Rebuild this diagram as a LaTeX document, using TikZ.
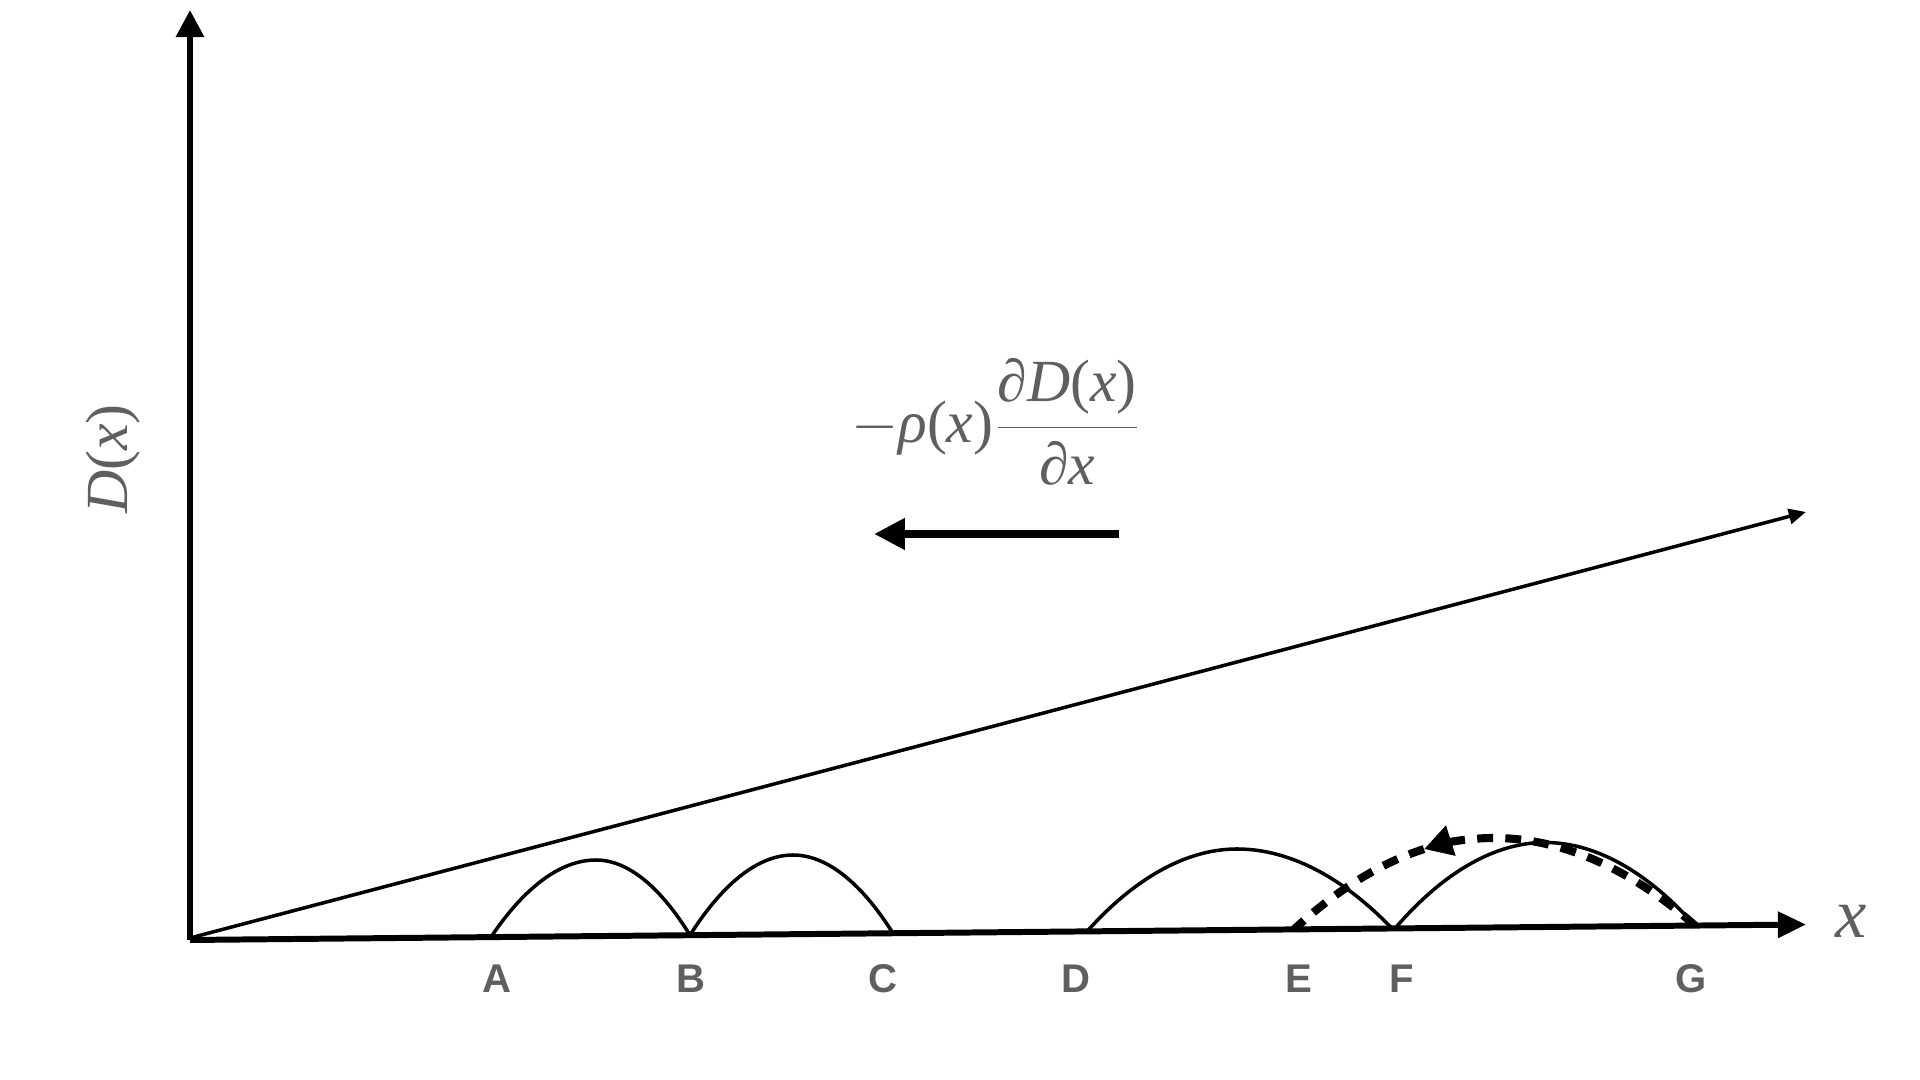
\documentclass[tikz,border=0pt]{standalone}
\usepackage{fontspec}
\setmainfont{Liberation Serif}
\newfontfamily\lsans{Liberation Sans}
\usetikzlibrary{arrows.meta}
\definecolor{txtgray}{HTML}{5F5F5F}
\begin{document}
\begin{tikzpicture}[x=0.01cm,y=-0.01cm,
  yaxis/.style={line width=1.7pt,-{Triangle[length=7.7pt,width=7.7pt]}},
  xaxis/.style={line width=1.7pt,-{Triangle[length=8pt,width=7.2pt]}},
  diag/.style={line width=1pt,-{Triangle[length=4.9pt,width=4.3pt]}},
  arch/.style={line width=1pt},
  jumpline/.style={line width=2.3pt,dash pattern=on 4.5pt off 3.5pt},
  jumparrow/.style={jumpline,-{Triangle[length=8pt,width=8.5pt]}},
  bigarrow/.style={line width=2.2pt,-{Triangle[length=8.8pt,width=8.5pt]}},
  ptlabel/.style={text=txtgray,font=\lsans\bfseries\fontsize{11.4}{13}\selectfont},
  mathlbl/.style={text=txtgray,font=\fontsize{17}{20}\selectfont}]
\useasboundingbox (0,0) rectangle (1920,1080);
\fill[white] (0,0) rectangle (1920,1080);
% axes
\coordinate (O) at (190,940);
\coordinate (Ytip) at (190,10);
\coordinate (Xtip) at (1806,924.5);
\coordinate (Dstart) at (190,938);
\coordinate (Dtip) at (1806,512);
\draw[yaxis] (O) -- (Ytip);
\draw[xaxis] (O) -- (Xtip);
\draw[diag] (Dstart) -- (Dtip);
% points on axis
\coordinate (A) at (491,937.1);
\coordinate (B) at (690,935.2);
\coordinate (C) at (893,933.3);
\coordinate (D) at (1087,931.4);
\coordinate (E) at (1294,929.4);
\coordinate (F1) at (1392,928.5);
\coordinate (F2) at (1395,928.4);
\coordinate (G) at (1695,925.5);
% peaks
\coordinate (pAB) at (596,860);
\coordinate (pBC) at (793,855);
\coordinate (pDF) at (1237,849);
\coordinate (pFG) at (1545,842.5);
\draw[arch] (A) parabola bend (pAB) (B);
\draw[arch] (B) parabola bend (pBC) (C);
\draw[arch] (D) parabola bend (pDF) (F1);
\draw[arch] (F2) parabola bend (pFG) (G);
% dashed backward jump G -> E
\coordinate (P) at (1494,838);
\coordinate (T) at (1424,849.1);
\draw[jumparrow] (G) parabola bend (P) (T);
\draw[jumpline] (T) .. controls (1380.7,862.9) and (1337.3,889.5) .. (E);
% labels
\node[ptlabel] (lA) at (497,979) {A};
\node[ptlabel] (lB) at (691,979) {B};
\node[ptlabel] (lC) at (883,979) {C};
\node[ptlabel] (lD) at (1076,979) {D};
\node[ptlabel] (lE) at (1299,979) {E};
\node[ptlabel] (lF) at (1402,979) {F};
\node[ptlabel] (lG) at (1691,979) {G};
\node[mathlbl,rotate=90] (ylab) at (113,459) {\textit{D}(\textit{x})};
\node[text=txtgray,font=\fontsize{20}{24}\selectfont] (xlab) at (1851,921) {\textit{x}};
% flux expression and arrow
\node[mathlbl] (expr) at (996,422) {$\displaystyle -\mbox{\textit{ρ}(\textit{x})}\frac{\mbox{\textit{∂D}(\textit{x})}}{\mbox{\textit{∂x}}}$};
\coordinate (arrR) at (1119,534);
\coordinate (arrL) at (874,534);
\draw[bigarrow] (arrR) -- (arrL);
\end{tikzpicture}
\end{document}
